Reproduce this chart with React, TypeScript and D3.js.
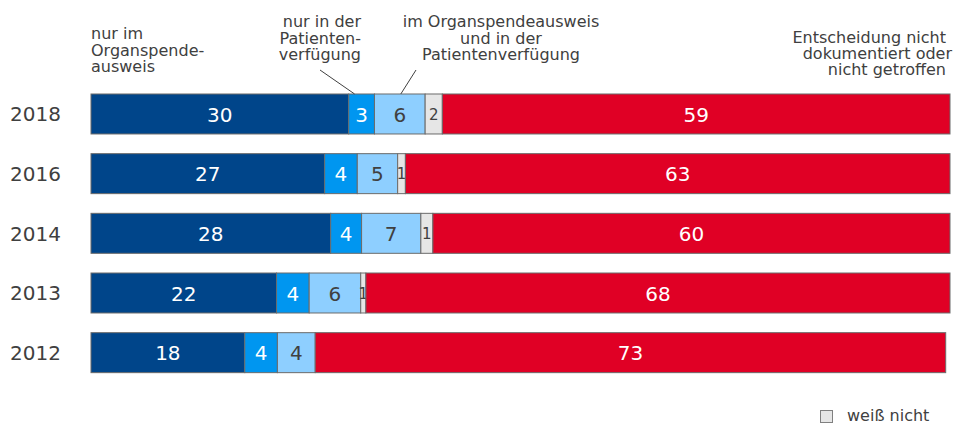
import React from "react";
import * as d3 from "d3";

const years = ["2018", "2016", "2014", "2013", "2012"];
// estimated segment shares (percent)
const onlyCard = [30.0, 27.2, 27.9, 21.6, 17.9];
const onlyDirective = [3.0, 3.8, 3.6, 3.8, 3.8];
const both = [5.9, 4.7, 6.9, 6.0, 4.4];
const dontKnow = [2.0, 0.9, 1.4, 0.6, 0];
const undecided = [59.1, 63.4, 60.2, 68.0, 73.4];
// printed labels
const onlyCardLabels = ["30", "27", "28", "22", "18"];
const onlyDirectiveLabels = ["3", "4", "4", "4", "4"];
const bothLabels = ["6", "5", "7", "6", "4"];
const dontKnowLabels = ["2", "1", "1", "1", ""];
const undecidedLabels = ["59", "63", "60", "68", "73"];

const annCard = ["nur im", "Organspende-", "ausweis"];
const annDirective = ["nur in der", "Patienten-", "verfügung"];
const annBoth = ["im Organspendeausweis", "und in der", "Patientenverfügung"];
const annUndecided = ["Entscheidung nicht", "dokumentiert oder", "nicht getroffen"];
const legendLabel = "weiß nicht";

const W = 954;
const H = 425;
const FONT = "'DejaVu Sans', Verdana, sans-serif";
const TXT = "#404040";

const seriesDefs = [
  { key: "onlyCard", values: onlyCard, labels: onlyCardLabels, fill: "#00458A", color: "#ffffff", size: 20 },
  { key: "onlyDirective", values: onlyDirective, labels: onlyDirectiveLabels, fill: "#0096F0", color: "#ffffff", size: 20 },
  { key: "both", values: both, labels: bothLabels, fill: "#8ECFFF", color: "#404040", size: 20 },
  { key: "dontKnow", values: dontKnow, labels: dontKnowLabels, fill: "#E6E6E6", color: "#404040", size: 15 },
  { key: "undecided", values: undecided, labels: undecidedLabels, fill: "#E00025", color: "#ffffff", size: 20 },
];

export default function App() {
  const rows = years.map((y, i) => {
    const r: any = { year: y };
    seriesDefs.forEach((s) => (r[s.key] = s.values[i]));
    return r;
  });
  const stacked = d3.stack<any>().keys(seriesDefs.map((s) => s.key))(rows);

  const x = d3.scaleLinear().domain([0, 100]).range([91, 950]);
  const y = d3
    .scaleBand<string>()
    .domain(years)
    .range([84.15, 382.5])
    .paddingInner(0.33)
    .paddingOuter(0.165);
  const bw = y.bandwidth();

  const y0 = y(years[0]) as number;
  const lh = 16.3;

  return (
    <svg
      width={W}
      height={H}
      style={{ position: "absolute", left: 0, top: 0, display: "block" }}
      fontFamily={FONT}
    >
      <rect width={W} height={H} fill="#fff" />
      {/* bars */}
      {stacked.map((layer, li) => {
        const s = seriesDefs[li];
        return (
          <g key={s.key}>
            {layer.map((d, i) => {
              const w = x(d[1]) - x(d[0]);
              if (w <= 0) return null;
              return (
                <rect
                  key={i}
                  x={x(d[0])}
                  y={y(years[i])}
                  width={w}
                  height={bw}
                  fill={s.fill}
                  stroke="#6b6b6b"
                  strokeWidth={1}
                />
              );
            })}
            {layer.map((d, i) => {
              const lab = s.labels[i];
              if (!lab) return null;
              const cy = (y(years[i]) as number) + bw / 2;
              return (
                <text
                  key={"t" + i}
                  x={(x(d[0]) + x(d[1])) / 2}
                  y={cy + (s.size === 20 ? 7.8 : 5.6)}
                  textAnchor="middle"
                  fontSize={s.size}
                  fill={s.color}
                >
                  {lab}
                </text>
              );
            })}
          </g>
        );
      })}
      {/* year labels */}
      {years.map((yr) => (
        <text
          key={yr}
          x={10}
          y={(y(yr) as number) + bw / 2 + 7.3}
          fontSize={20}
          fill={TXT}
        >
          {yr}
        </text>
      ))}
      {/* annotations */}
      <text fontSize={16} fill={TXT}>
        {annCard.map((t, i) => (
          <tspan key={i} x={91} y={39.3 + i * lh}>
            {t}
          </tspan>
        ))}
      </text>
      <text fontSize={16} fill={TXT} textAnchor="end">
        {annDirective.map((t, i) => (
          <tspan key={i} x={361} y={27.3 + i * lh}>
            {t}
          </tspan>
        ))}
      </text>
      <text fontSize={16} fill={TXT} textAnchor="middle">
        {annBoth.map((t, i) => (
          <tspan key={i} x={501} y={27.3 + i * lh}>
            {t}
          </tspan>
        ))}
      </text>
      <text fontSize={16} fill={TXT} textAnchor="end">
        {annUndecided.map((t, i) => (
          <tspan key={i} x={[946, 952, 946][i]} y={43.3 + i * 16}>
            {t}
          </tspan>
        ))}
      </text>
      {/* leader lines */}
      <line x1={320} y1={70} x2={x(onlyCard[0] + onlyDirective[0] / 2) - 7} y2={y0} stroke="#404040" strokeWidth={1} />
      <line
        x1={416}
        y1={70}
        x2={x(onlyCard[0] + onlyDirective[0] + both[0] / 2) + 1}
        y2={y0}
        stroke="#404040"
        strokeWidth={1}
      />
      {/* legend */}
      <rect x={820.5} y={410.5} width={12} height={12} fill="#E6E6E6" stroke="#808080" strokeWidth={1} />
      <text x={847} y={421.3} fontSize={16} fill={TXT}>
        {legendLabel}
      </text>
    </svg>
  );
}
